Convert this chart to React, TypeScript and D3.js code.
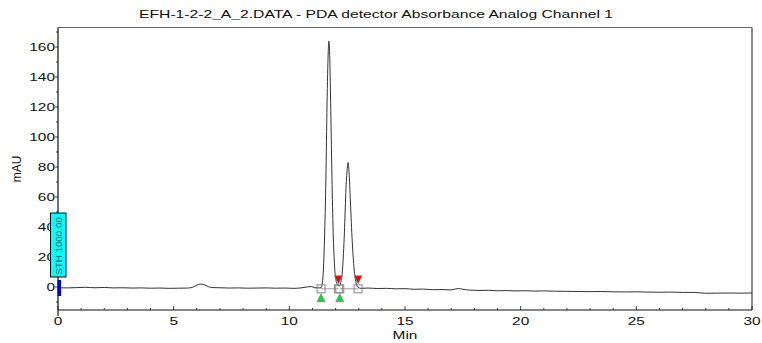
import React from "react";
import * as d3 from "d3";

const TITLE = "EFH-1-2-2_A_2.DATA - PDA detector Absorbance Analog Channel 1";
const X_LABEL = "Min";
const Y_LABEL = "mAU";
const X_TICKS = [0, 5, 10, 15, 20, 25, 30];
const Y_TICKS = [0, 20, 40, 60, 80, 100, 120, 140, 160];

const TIME = [
  0.0, 0.4, 0.8, 1.2, 1.6, 2.0, 2.4, 2.8, 3.2, 3.6, 4.0, 4.4, 4.8, 5.2, 5.6, 5.8, 6.0, 6.15, 6.3, 6.5,
  6.7, 7.0, 7.4, 7.8, 8.2, 8.6, 9.0, 9.4, 9.8, 10.2, 10.5, 10.8, 10.95, 11.1, 11.3, 11.37,
  11.45, 11.52, 11.58, 11.63, 11.68, 11.71, 11.74, 11.78, 11.83, 11.88, 11.94, 12.0, 12.08, 12.15,
  12.22, 12.3, 12.38, 12.45, 12.51, 12.54, 12.58, 12.64, 12.72, 12.8, 12.88, 12.97, 13.1,
  13.4, 13.8, 14.2, 14.6, 15.0, 15.4, 15.8, 16.2, 16.6, 17.0, 17.3, 17.5, 17.8, 18.2, 18.6, 19.0,
  19.4, 19.8, 20.2, 20.6, 21.0, 21.5, 22.0, 22.5, 23.0, 23.5, 24.0, 24.5, 25.0, 25.5, 26.0, 26.5,
  27.0, 27.5, 28.0, 28.5, 29.0, 29.5, 30.0,
];
const ABS = [
  -0.5, -0.6, -0.4, -0.2, -0.5, -0.3, -0.6, -0.5, -0.7, -0.6, -0.8, -0.7, -0.9, -0.8, -0.7, -0.3, 1.2, 2.0, 1.6, 0.2,
  -0.4, -0.5, -0.7, -0.6, -0.8, -0.7, -0.6, -0.8, -0.7, -0.9, -0.6, 0.1, 0.3, -0.5, -0.6, -0.5,
  6, 32, 72, 122, 156, 164, 157, 128, 84, 45, 18, 6, 1.5, 0.5,
  3, 12, 36, 66, 80, 83, 77, 57, 30, 12, 3, -0.3, -0.9,
  -0.7, -1.0, -0.9, -1.2, -1.1, -1.5, -1.4, -1.8, -1.7, -1.9, -1.0, -1.5, -2.1, -2.3, -2.2, -2.5,
  -2.4, -2.6, -2.5, -2.7, -2.6, -2.8, -2.9, -3.0, -3.1, -3.0, -3.2, -3.3, -3.2, -3.4, -3.5, -3.4,
  -3.6, -3.6, -4.2, -4.1, -4.0, -4.1, -4.0,
];

const PEAK_START = [11.37, 12.18];
const PEAK_END = [12.12, 12.97];
const BASE_LEVEL = -1.2;

const W = 762;
const H = 343;
const L = 58;
const R = 752;
const TOP = 27.5;
const BOT = 310;

const SX = 1.4;

function T(props: { x: number; y: number; anchor?: string; size?: number; children: React.ReactNode; fill?: string }) {
  const { x, y, anchor = "middle", size = 11, children, fill = "#111" } = props;
  return (
    <text
      transform={`translate(${x},${y}) scale(${SX},1)`}
      textAnchor={anchor}
      fontSize={size}
      fontFamily="'Liberation Sans', Arial, sans-serif"
      fill={fill}
    >
      {children}
    </text>
  );
}

export default function App() {
  const x = d3.scaleLinear().domain([0, 30]).range([L, R]);
  const y = d3.scaleLinear().domain([0, 160]).range([287, 47]);
  const line = d3
    .line<number>()
    .x((_, i) => x(TIME[i]))
    .y((d) => y(d))
    .curve(d3.curveMonotoneX);

  const xMinor = d3.range(0, 31, 1);
  const yMinor = d3.range(-10, 171, 10);
  const tri = 4;

  return (
    <svg width={W} height={H} style={{ position: "absolute", left: 0, top: 0, background: "#fff" }}>
      <T x={376} y={18} size={11.2}>{TITLE}</T>
      {/* frame */}
      <line x1={L} x2={R} y1={TOP} y2={TOP} stroke="#666" strokeWidth={1} />
      <line x1={R} x2={R} y1={TOP} y2={BOT} stroke="#666" strokeWidth={1.5} />
      <line x1={L} x2={L} y1={TOP} y2={BOT + 6} stroke="#111" strokeWidth={1.2} />
      <line x1={L} x2={R} y1={BOT} y2={BOT} stroke="#111" strokeWidth={1.2} />
      {/* x ticks */}
      {xMinor.map((t) => (
        <line key={"xm" + t} x1={x(t)} x2={x(t)} y1={BOT} y2={BOT - (t % 5 === 0 ? 4 : 2)} stroke="#111" strokeWidth={0.8} />
      ))}
      {X_TICKS.map((t) => (
        <T key={"xt" + t} x={x(t)} y={325} size={11}>{t}</T>
      ))}
      {/* y ticks */}
      {yMinor.map((v) => (
        <line key={"ym" + v} x1={L} x2={L - (v % 20 === 0 ? 3 : 2)} y1={y(v)} y2={y(v)} stroke="#111" strokeWidth={0.8} />
      ))}
      {Y_TICKS.map((v) => (
        <T key={"yt" + v} x={55} y={y(v) + 4} anchor="end" size={11}>{v}</T>
      ))}
      <text
        transform={`translate(21,169) rotate(-90)`}
        textAnchor="middle"
        fontSize={12}
        fontFamily="'Liberation Sans', Arial, sans-serif"
        fill="#111"
      >
        {Y_LABEL}
      </text>
      <T x={405} y={339} size={11}>{X_LABEL}</T>
      {/* trace */}
      <path d={line(ABS) || ""} fill="none" stroke="#333" strokeWidth={1} />
      {/* integration baselines */}
      {PEAK_START.map((s, i) => (
        <line key={"bl" + i} x1={x(s)} x2={x(PEAK_END[i])} y1={y(BASE_LEVEL)} y2={y(BASE_LEVEL)} stroke="#999" strokeWidth={1} />
      ))}
      {/* markers */}
      {[...PEAK_START, ...PEAK_END].map((t, i) => (
        <rect key={"sq" + i} x={x(t) - 4} y={y(BASE_LEVEL) - 4} width={8} height={8} fill="none" stroke="#888" strokeWidth={1} />
      ))}
      {PEAK_START.map((t, i) => {
        const cx = x(t);
        const cy = y(BASE_LEVEL) + 5;
        return (
          <path key={"g" + i} d={`M${cx},${cy} L${cx - tri},${cy + 8} L${cx + tri},${cy + 8} Z`} fill="#00dd33" stroke="#888" strokeWidth={0.8} />
        );
      })}
      {PEAK_END.map((t, i) => {
        const cx = x(t);
        const cy = y(BASE_LEVEL) - 5;
        return (
          <path key={"r" + i} d={`M${cx},${cy} L${cx - tri},${cy - 8} L${cx + tri},${cy - 8} Z`} fill="#ee0000" stroke="#888" strokeWidth={0.8} />
        );
      })}
      {/* STH event box */}
      <rect x={50.5} y={213} width={15.5} height={64} fill="#00ffff" stroke="#111" strokeWidth={1} />
      <text
        transform={`translate(61.8,246) rotate(-90)`}
        textAnchor="middle"
        fontSize={9.8}
        fontFamily="'Liberation Sans', Arial, sans-serif"
        fill="#005a5a"
      >
        STH 1000.00
      </text>
      <rect x={57.5} y={280} width={3.5} height={16} fill="#0000ee" />
    </svg>
  );
}
